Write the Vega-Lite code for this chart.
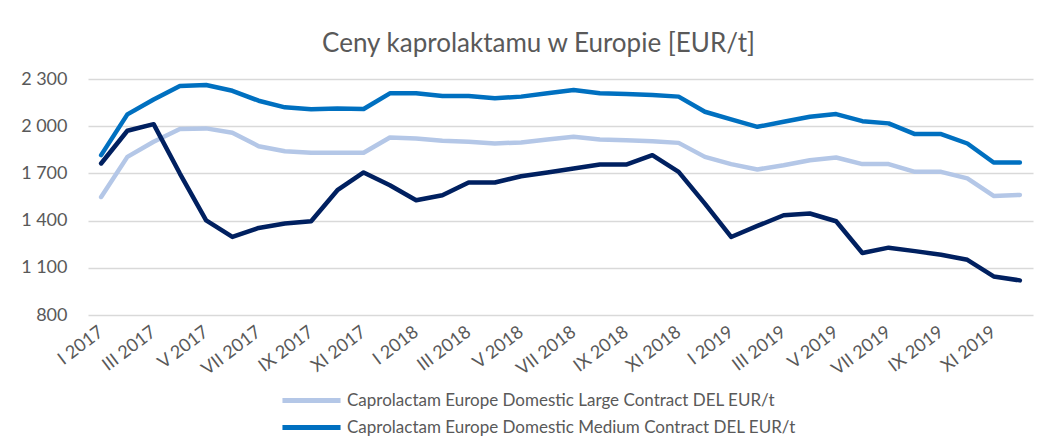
{
  "$schema": "https://vega.github.io/schema/vega-lite/v6.json",
  "width": 945,
  "height": 236,
  "autosize": {"type": "none"},
  "padding": {"left": 88, "top": 79, "right": 18, "bottom": 121},
  "background": "white",
  "config": {
    "font": "Lato",
    "view": {"stroke": null},
    "axis": {"labelColor": "#595959", "labelFont": "Lato", "gridColor": "#d9d9d9", "gridWidth": 1.3, "domain": false, "ticks": false}
  },
  "title": {"text": "Ceny kaprolaktamu w Europie [EUR/t]", "fontSize": 26, "font": "Lato", "fontWeight": "normal", "color": "#595959", "anchor": "middle", "dx": -22, "offset": 13},
  "data": {"values": [
    {"m": "I 2017", "large": 1550, "medium": 1816, "spot": 1763},
    {"m": "II 2017", "large": 1805, "medium": 2075, "spot": 1971},
    {"m": "III 2017", "large": 1901, "medium": 2170, "spot": 2013},
    {"m": "IV 2017", "large": 1982, "medium": 2255, "spot": 1699},
    {"m": "V 2017", "large": 1986, "medium": 2262, "spot": 1402},
    {"m": "VI 2017", "large": 1958, "medium": 2225, "spot": 1296},
    {"m": "VII 2017", "large": 1873, "medium": 2162, "spot": 1353},
    {"m": "VIII 2017", "large": 1841, "medium": 2120, "spot": 1381},
    {"m": "IX 2017", "large": 1831, "medium": 2107, "spot": 1396},
    {"m": "X 2017", "large": 1831, "medium": 2113, "spot": 1593},
    {"m": "XI 2017", "large": 1831, "medium": 2109, "spot": 1706},
    {"m": "XII 2017", "large": 1928, "medium": 2209, "spot": 1625},
    {"m": "I 2018", "large": 1922, "medium": 2209, "spot": 1529},
    {"m": "II 2018", "large": 1907, "medium": 2192, "spot": 1561},
    {"m": "III 2018", "large": 1901, "medium": 2192, "spot": 1642},
    {"m": "IV 2018", "large": 1890, "medium": 2177, "spot": 1642},
    {"m": "V 2018", "large": 1897, "medium": 2188, "spot": 1682},
    {"m": "VI 2018", "large": 1916, "medium": 2209, "spot": 1706},
    {"m": "VII 2018", "large": 1933, "medium": 2230, "spot": 1731},
    {"m": "VIII 2018", "large": 1916, "medium": 2209, "spot": 1756},
    {"m": "IX 2018", "large": 1911, "medium": 2204, "spot": 1756},
    {"m": "X 2018", "large": 1905, "medium": 2198, "spot": 1816},
    {"m": "XI 2018", "large": 1894, "medium": 2188, "spot": 1710},
    {"m": "XII 2018", "large": 1805, "medium": 2092, "spot": 1508},
    {"m": "I 2019", "large": 1759, "medium": 2043, "spot": 1296},
    {"m": "II 2019", "large": 1725, "medium": 1996, "spot": 1366},
    {"m": "III 2019", "large": 1752, "medium": 2028, "spot": 1434},
    {"m": "IV 2019", "large": 1784, "medium": 2060, "spot": 1445},
    {"m": "V 2019", "large": 1801, "medium": 2077, "spot": 1396},
    {"m": "VI 2019", "large": 1759, "medium": 2032, "spot": 1194},
    {"m": "VII 2019", "large": 1759, "medium": 2018, "spot": 1228},
    {"m": "VIII 2019", "large": 1710, "medium": 1950, "spot": 1206},
    {"m": "IX 2019", "large": 1710, "medium": 1950, "spot": 1183},
    {"m": "X 2019", "large": 1668, "medium": 1890, "spot": 1151},
    {"m": "XI 2019", "large": 1557, "medium": 1769, "spot": 1045},
    {"m": "XII 2019", "large": 1563, "medium": 1769, "spot": 1020}
  ]},
  "transform": [
    {"fold": ["large", "medium", "spot"], "as": ["key", "value"]},
    {"lookup": "key", "from": {"data": {"values": [
      {"key": "large", "series": "Caprolactam Europe Domestic Large Contract DEL EUR/t", "ord": 1},
      {"key": "medium", "series": "Caprolactam Europe Domestic Medium Contract DEL EUR/t", "ord": 2},
      {"key": "spot", "series": "Caprolactam Europe Spot DEL EUR/t", "ord": 3}
    ]}, "key": "key", "fields": ["series", "ord"]}}
  ],
  "mark": {"type": "line", "strokeWidth": 4.5, "strokeCap": "round", "strokeJoin": "round"},
  "encoding": {
    "x": {"field": "m", "type": "ordinal", "sort": null, "title": null,
      "scale": {"paddingOuter": 0.5},
      "axis": {"values": ["I 2017", "III 2017", "V 2017", "VII 2017", "IX 2017", "XI 2017", "I 2018", "III 2018", "V 2018", "VII 2018", "IX 2018", "XI 2018", "I 2019", "III 2019", "V 2019", "VII 2019", "IX 2019", "XI 2019"],
        "labelAngle": -37, "labelFontSize": 18, "labelPadding": 15, "labelBaseline": "middle", "labelAlign": "right", "grid": false}},
    "y": {"field": "value", "type": "quantitative", "title": null,
      "scale": {"domain": [800, 2300], "nice": false, "zero": false},
      "axis": {"values": [800, 1100, 1400, 1700, 2000, 2300], "labelFontSize": 18, "labelPadding": 21, "labelExpr": "replace(format(datum.value, ','), ',', ' ')"}},
    "color": {"field": "series", "type": "nominal",
      "scale": {"domain": ["Caprolactam Europe Domestic Large Contract DEL EUR/t", "Caprolactam Europe Domestic Medium Contract DEL EUR/t", "Caprolactam Europe Spot DEL EUR/t"], "range": ["#b4c7e7", "#0070c0", "#002060"]},
      "legend": {"title": null, "orient": "none", "legendX": 215, "legendY": 313, "direction": "vertical",
        "values": ["Caprolactam Europe Domestic Large Contract DEL EUR/t", "Caprolactam Europe Domestic Medium Contract DEL EUR/t"],
        "symbolType": "M-5,0H5", "symbolSize": 135, "symbolStrokeWidth": 5, "labelOffset": 27,
        "labelFontSize": 17, "labelColor": "#595959", "labelFont": "Lato", "labelLimit": 0, "rowPadding": 6}},
    "order": {"field": "ord", "type": "quantitative"}
  }
}
